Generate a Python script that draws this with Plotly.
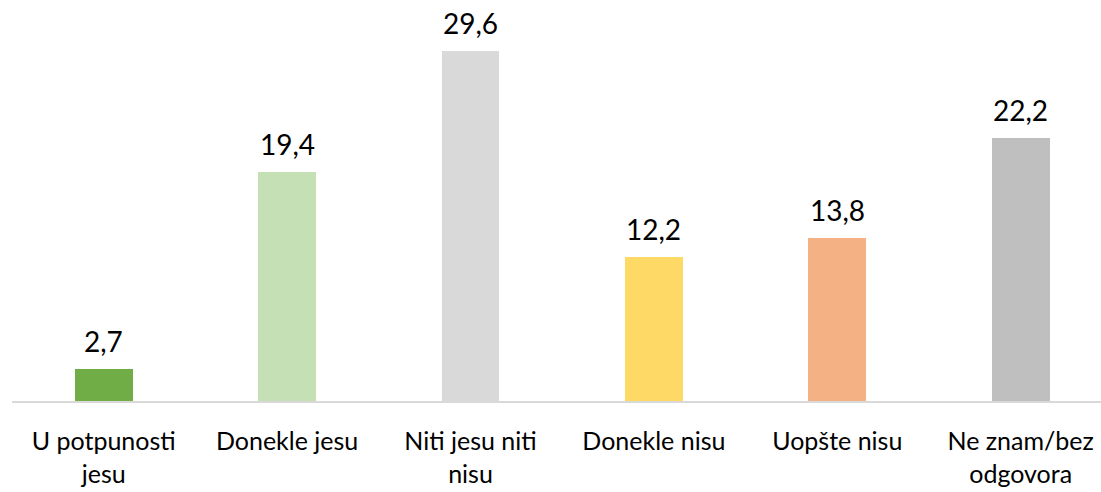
import plotly.graph_objects as go

categories = ["U potpunosti<br>jesu", "Donekle jesu", "Niti jesu niti<br>nisu", "Donekle nisu", "Uopšte nisu", "Ne znam/bez<br>odgovora"]
values = [2.7, 19.4, 29.6, 12.2, 13.8, 22.2]
labels = ["2,7", "19,4", "29,6", "12,2", "13,8", "22,2"]
colors = ["#70AD47", "#C5E0B4", "#D9D9D9", "#FFD966", "#F4B183", "#BFBFBF"]

FONT = "Lato, 'Open Sans', 'Liberation Sans', sans-serif"

fig = go.Figure(go.Bar(
    x=list(range(len(categories))), y=values,
    marker=dict(color=colors, line=dict(width=0)),
    width=0.316,
    hoverinfo="skip",
))

for i, (v, t) in enumerate(zip(values, labels)):
    fig.add_annotation(x=i, y=v, text=t, showarrow=False, yanchor="bottom",
                       yshift=9, font=dict(family=FONT, size=28, color="#000000"))

fig.update_layout(
    width=1101, height=492,
    margin=dict(l=12, r=0, t=0, b=91),
    plot_bgcolor="white", paper_bgcolor="white",
    showlegend=False,
    bargap=0,
)
fig.update_xaxes(
    range=[-0.5, 5.438], tickmode="array", tickvals=list(range(len(categories))),
    ticktext=categories, showgrid=False, zeroline=False,
    showline=True, linecolor="#D9D9D9", linewidth=2, ticks="",
    tickfont=dict(family=FONT, size=25, color="#000000"),
    ticklabelstandoff=17,
)
fig.update_yaxes(range=[0, 33.91], visible=False, showgrid=False, zeroline=False)

fig.write_html("out.html", config={"displayModeBar": False},
               post_script="document.body.style.margin='0';")
